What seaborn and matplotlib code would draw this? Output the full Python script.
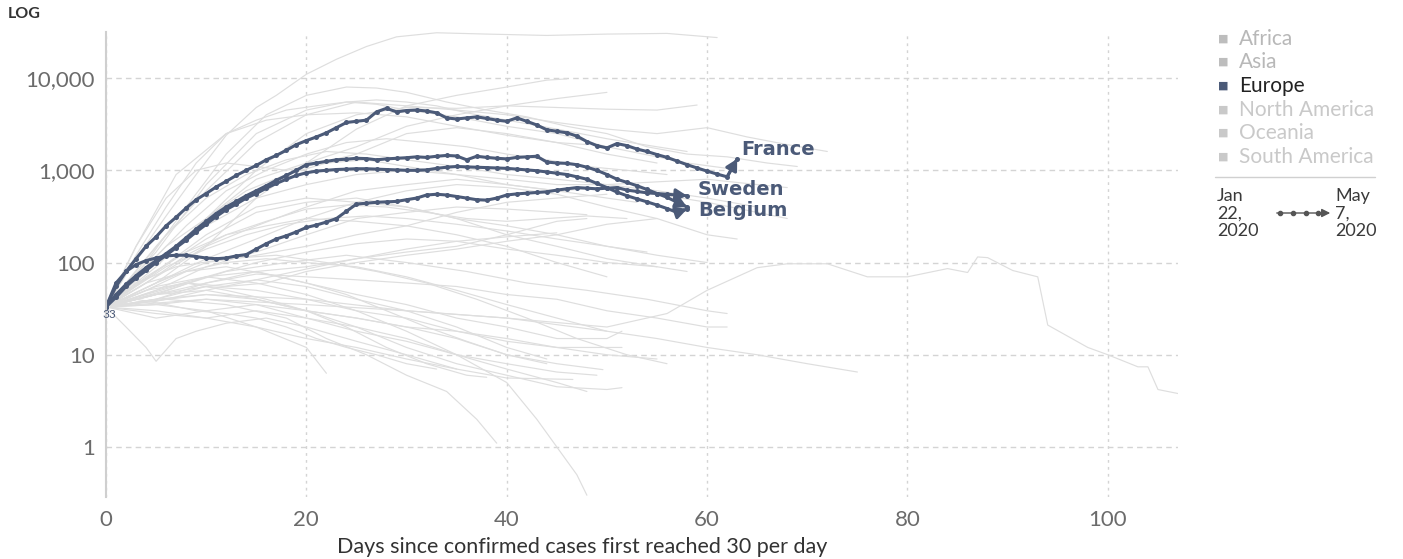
import matplotlib
matplotlib.use("Agg")
import matplotlib.pyplot as plt
import numpy as np
import pandas as pd
import seaborn as sns
from matplotlib.ticker import FuncFormatter, NullLocator
from matplotlib.lines import Line2D
from matplotlib.patches import FancyArrowPatch

# ---------------- DATA ----------------
# Highlighted European countries: daily values from day 0
france = [33, 55, 80, 110, 150, 190, 250, 310, 390, 480,
          560, 660, 760, 880, 1000, 1130, 1300, 1450, 1650, 1900,
          2100, 2300, 2550, 2900, 3300, 3400, 3500, 4300, 4700, 4300,
          4450, 4500, 4400, 4200, 3700, 3600, 3700, 3800, 3650, 3500,
          3400, 3700, 3400, 3100, 2750, 2650, 2550, 2350, 2050, 1850,
          1750, 1950, 1850, 1700, 1600, 1480, 1380, 1260, 1150, 1060,
          980, 910, 850, 1330]
belgium = [33, 45, 58, 72, 88, 105, 125, 150, 185, 230,
           280, 340, 400, 460, 530, 600, 680, 780, 880, 1000,
           1150, 1200, 1250, 1300, 1320, 1350, 1340, 1300, 1330, 1350,
           1370, 1400, 1380, 1420, 1450, 1430, 1300, 1420, 1380, 1350,
           1330, 1380, 1400, 1420, 1230, 1200, 1190, 1150, 1080, 1000,
           900, 800, 740, 680, 620, 560, 510, 450, 400]
europe_other = [33, 42, 55, 68, 82, 100, 120, 145, 175, 215,
                260, 315, 375, 430, 500, 560, 640, 720, 800, 880,
                940, 980, 1000, 1020, 1030, 1040, 1040, 1030, 1020, 1010,
                1000, 1000, 1010, 1050, 1080, 1100, 1090, 1080, 1070, 1060,
                1050, 1030, 1010, 990, 960, 930, 900, 850, 800, 720,
                650, 580, 530, 490, 455, 420, 385, 350, 380]
sweden = [33, 60, 80, 95, 105, 112, 118, 120, 120, 116,
          112, 110, 112, 118, 122, 140, 160, 180, 195, 215,
          240, 255, 275, 300, 360, 430, 440, 450, 455, 460,
          480, 500, 540, 550, 540, 520, 500, 480, 475, 500,
          540, 555, 565, 575, 585, 610, 630, 650, 640, 630,
          640, 650, 610, 590, 570, 560, 550, 540, 530]
highlight_names = ["France", "Belgium", "", "Sweden"]

# Other countries (grey), read as (day, value) points
gray_high = [
    [(0, 33), (3, 110), (6, 320), (9, 900), (12, 2400), (15, 4800), (17, 6500), (20, 11000), (23, 16000),
     (26, 22000), (29, 28000), (33, 31000), (38, 30000), (44, 29000), (50, 30000), (56, 30500), (61, 27500)],
    [(0, 33), (4, 100), (8, 400), (12, 1500), (16, 4000), (20, 6500), (24, 8000), (27, 7800), (30, 7000),
     (34, 5500), (38, 4500), (42, 3800), (46, 3000), (50, 2500), (54, 1800), (58, 1500), (62, 1400),
     (66, 1200), (69, 1100)],
    [(0, 33), (5, 150), (10, 600), (15, 2000), (20, 4000), (25, 5500), (30, 5000), (35, 4500), (40, 4000),
     (45, 3300), (50, 2800), (55, 2500), (60, 2900), (64, 2300), (68, 1900), (72, 1600)],
    [(0, 33), (5, 130), (10, 700), (15, 2500), (20, 4500), (24, 5500), (27, 5200), (30, 4500), (35, 3800),
     (40, 3000), (45, 2500), (50, 1800), (55, 1400), (58, 1200), (62, 1050)],
    [(0, 33), (5, 90), (10, 300), (15, 1000), (20, 2500), (25, 4000), (30, 4800), (35, 4700), (40, 5000),
     (45, 4800), (50, 4600), (55, 4500), (59, 5100)],
    [(0, 33), (3, 150), (7, 900), (12, 2500), (16, 3500), (20, 4000), (25, 4200), (30, 3800), (35, 3000),
     (40, 2400), (45, 2000), (48, 1900)],
    [(0, 33), (5, 60), (10, 150), (15, 500), (20, 1200), (25, 2800), (30, 5000), (35, 6500), (40, 8000),
     (44, 9500), (46, 9800)],
    [(0, 33), (5, 100), (10, 300), (15, 800), (20, 1200), (25, 1800), (30, 3000), (35, 4000), (40, 5000),
     (45, 6000), (50, 7000)],
    [(0, 33), (3, 150), (6, 500), (9, 1000), (12, 1200), (15, 1100), (18, 1000), (20, 1100), (25, 1500),
     (30, 2500), (35, 2900), (40, 2500), (45, 2000), (50, 1500), (55, 1200)],
    [(0, 33), (3, 120), (6, 400), (9, 1200), (12, 2500), (15, 3500), (18, 4500), (21, 5000), (24, 5500),
     (27, 5800), (30, 5500), (33, 5000), (36, 4200), (40, 3500), (45, 2800), (50, 2200), (55, 1800), (58, 1600)],
    [(0, 33), (4, 90), (8, 250), (12, 600), (16, 1000), (20, 1500), (24, 2000), (28, 2200), (32, 2000),
     (36, 1800), (40, 1500), (44, 1300), (48, 1100), (52, 1000), (56, 900)],
    [(0, 33), (3, 80), (6, 200), (10, 500), (14, 900), (18, 1300), (22, 1600), (26, 1500), (30, 1300),
     (35, 1100), (40, 900), (45, 800), (50, 700), (55, 600), (60, 500), (65, 400)],
]
gray_mid = [
    [(0, 33), (5, 70), (10, 150), (15, 250), (20, 400), (25, 600), (30, 700), (35, 800), (40, 700), (45, 600),
     (50, 500), (53, 450)],
    [(0, 33), (5, 80), (10, 200), (15, 400), (20, 500), (25, 450), (30, 400), (35, 300), (40, 250), (45, 200),
     (50, 150), (55, 120), (60, 100)],
    [(0, 33), (4, 60), (8, 120), (12, 200), (16, 250), (20, 300), (25, 280), (30, 250), (35, 200), (40, 150),
     (45, 100), (50, 70)],
    [(0, 33), (5, 50), (10, 90), (15, 130), (20, 200), (25, 300), (30, 350), (35, 400), (40, 380), (45, 350),
     (48, 330)],
    [(0, 33), (3, 70), (6, 150), (10, 300), (14, 600), (18, 900), (22, 1200), (26, 1300), (30, 1100), (35, 900),
     (40, 700), (45, 600), (50, 650), (55, 550), (60, 450), (65, 350), (68, 300)],
    [(0, 33), (5, 60), (10, 100), (15, 120), (20, 150), (25, 200), (30, 250), (35, 350), (40, 450), (45, 500),
     (50, 550)],
    [(0, 33), (5, 45), (10, 70), (15, 100), (20, 130), (25, 160), (30, 180), (35, 170), (40, 140), (45, 120),
     (50, 100), (55, 90)],
    [(0, 33), (4, 50), (8, 80), (12, 100), (16, 110), (20, 100), (25, 90), (30, 70), (35, 50), (40, 35),
     (45, 25), (50, 18)],
    [(0, 33), (5, 40), (10, 60), (15, 80), (20, 90), (25, 110), (30, 130), (35, 150), (40, 200), (45, 280),
     (48, 300)],
    [(0, 33), (3, 60), (7, 90), (12, 110), (17, 120), (22, 100), (27, 80), (32, 60), (37, 40), (42, 25),
     (47, 15), (52, 10), (56, 8)],
    [(0, 33), (5, 100), (10, 250), (15, 500), (20, 700), (25, 900), (30, 1000), (35, 900), (40, 800),
     (45, 700), (50, 700), (55, 750), (60, 800), (65, 700), (68, 650)],
    [(0, 33), (5, 60), (10, 110), (15, 180), (20, 300), (25, 450), (30, 600), (35, 700), (40, 650), (45, 550),
     (50, 400), (55, 300), (60, 200), (63, 180)],
    [(0, 33), (4, 45), (8, 60), (12, 55), (16, 60), (20, 80), (25, 100), (30, 120), (35, 140), (40, 170),
     (45, 200), (50, 260), (55, 300)],
    [(0, 33), (5, 80), (10, 180), (15, 350), (20, 450), (25, 500), (30, 400), (35, 300), (40, 200), (45, 150),
     (50, 110), (55, 90), (58, 80)],
    [(0, 33), (6, 50), (12, 80), (18, 100), (24, 120), (30, 100), (36, 80), (42, 60), (48, 50), (54, 40),
     (60, 30), (62, 28)],
    [(0, 33), (3, 55), (6, 90), (10, 140), (14, 200), (18, 260), (22, 300), (26, 320), (30, 300), (35, 260),
     (40, 220), (45, 180), (50, 150), (54, 130)],
    [(0, 33), (5, 45), (10, 60), (15, 75), (20, 70), (25, 65), (30, 60), (35, 55), (40, 45), (45, 40),
     (50, 30), (55, 25), (60, 20), (62, 20)],
    [(0, 33), (4, 70), (8, 130), (12, 200), (16, 280), (20, 380), (24, 420), (28, 400), (32, 350), (36, 300),
     (40, 280), (44, 300), (48, 320), (52, 300)],
    [(0, 33), (5, 38), (10, 50), (15, 65), (20, 85), (25, 110), (30, 140), (35, 170), (40, 190), (45, 210)],
]
gray_low = [
    [(0, 33), (2, 20), (4, 12), (5, 8.5), (7, 15), (9, 18), (12, 22), (16, 25), (20, 20), (25, 14), (30, 10),
     (35, 7)],
    [(0, 33), (5, 40), (10, 45), (15, 40), (20, 30), (25, 20), (30, 15), (35, 10), (40, 7), (45, 5), (48, 4)],
    [(0, 33), (4, 50), (8, 60), (12, 50), (16, 40), (20, 30), (24, 20), (28, 12), (32, 8), (36, 6), (38, 5.7)],
    [(0, 33), (5, 35), (10, 40), (15, 35), (20, 25), (25, 18), (30, 14), (35, 10), (40, 8), (45, 6.5), (49, 6)],
    [(0, 33), (5, 50), (10, 70), (15, 60), (20, 45), (25, 30), (30, 18), (35, 10), (40, 5), (43, 2), (45, 1),
     (47, 0.5), (48, 0.3)],
    [(0, 33), (6, 40), (12, 35), (18, 25), (22, 15), (26, 10), (30, 6), (34, 4), (37, 2), (39, 1.1)],
    [(0, 33), (5, 30), (10, 25), (15, 20), (20, 12), (22, 6.3)],
    [(0, 33), (5, 45), (10, 50), (15, 40), (20, 30), (25, 25), (30, 20), (35, 15), (40, 10), (45, 8),
     (49.6, 6.9)],
    [(0, 33), (5, 55), (10, 70), (15, 80), (20, 60), (25, 45), (30, 35), (35, 25), (40, 20), (45, 15),
     (50, 15), (51.5, 18)],
    [(0, 33), (5, 40), (10, 55), (15, 50), (20, 40), (25, 30), (30, 25), (35, 18), (40, 14), (45, 12),
     (51.5, 12)],
    [(0, 33), (5, 35), (10, 30), (15, 20), (20, 15), (25, 12), (30, 9), (35, 7), (40, 5.6), (46.6, 5.4)],
    [(0, 33), (5, 28), (10, 25), (15, 30), (20, 25), (25, 20), (30, 12), (35, 8), (40, 6), (45, 4.5),
     (50, 4.2), (51.5, 4.4)],
    [(0, 33), (10, 45), (20, 40), (30, 30), (40, 25), (50, 18), (55, 15), (60, 12), (65, 10), (70, 8),
     (75, 6.5)],
    [(0, 33), (10, 40), (20, 35), (30, 30), (40, 25), (50, 20), (56, 28), (60, 50), (65, 88), (68, 97),
     (72, 97), (76, 70), (80, 70), (84, 86), (86, 78), (87, 115), (88, 113), (90.5, 82), (93, 70), (94, 21),
     (98, 12), (100, 10), (103, 7.4), (104, 7.4), (105, 4.2), (107, 3.8)],
    [(0, 33), (3, 40), (6, 35), (9, 30), (12, 28), (15, 25), (18, 20), (21, 15), (24, 12), (27, 10), (30, 8),
     (33, 7)],
    [(0, 33), (5, 45), (10, 55), (15, 65), (20, 55), (25, 40), (30, 30), (35, 20), (40, 12), (44, 9)],
    [(0, 33), (4, 60), (8, 80), (12, 90), (16, 75), (20, 60), (24, 45), (28, 30), (32, 20), (36, 14), (40, 10),
     (44, 8)],
    [(0, 33), (5, 25), (10, 30), (15, 35), (20, 30), (25, 25), (30, 20), (35, 18), (40, 15), (45, 12),
     (50, 10), (55, 9)],
]

legend_regions = ["Africa", "Asia", "Europe", "North America", "Oceania", "South America"]
x_ticks = [0, 20, 40, 60, 80, 100]
y_ticks = [1, 10, 100, 1000, 10000]

# ---------------- STYLE ----------------
HL = "#4b5a78"
GRAY = "#dedede"
W, H = 1403, 559

sns.set_theme(style="white")
plt.rcParams["font.family"] = ["Lato", "DejaVu Sans"]

fig = plt.figure(figsize=(W / 100, H / 100), dpi=100)
ax = fig.add_axes([106 / W, 1 - 497 / H, (1178 - 106) / W, (497 - 32) / H])

# grey background lines
rows = []
for gi, line in enumerate(gray_high + gray_mid + gray_low):
    for d, v in line:
        rows.append({"line": gi, "day": d, "cases": v})
gray_df = pd.DataFrame(rows)
sns.lineplot(data=gray_df, x="day", y="cases", units="line", estimator=None,
             color=GRAY, linewidth=0.85, ax=ax, legend=False)

# highlighted lines
hl_series = [france, belgium, europe_other, sweden]
hrows = []
for name_i, vals in enumerate(hl_series):
    for d, v in enumerate(vals):
        hrows.append({"country": name_i, "day": d, "cases": v})
hl_df = pd.DataFrame(hrows)
sns.lineplot(data=hl_df, x="day", y="cases", units="country", estimator=None,
             color=HL, linewidth=2.2, marker="o", markersize=3.6, markeredgewidth=0,
             ax=ax, legend=False)

ax.set_yscale("log")
ax.set_xlim(0, 107)
ax.set_ylim(0.287, 31600)

# arrowheads + labels
label_offsets = {"France": (4, 9), "Sweden": (11, 6), "Belgium": (11, -3)}
for name, vals in zip(highlight_names, hl_series):
    n = len(vals) - 1
    ax.annotate("", xy=(n, vals[n]), xytext=(n - 1, vals[n - 1]),
                arrowprops=dict(arrowstyle="-|>,head_length=0.55,head_width=0.3",
                                color=HL, lw=2.2, shrinkA=0, shrinkB=0))
    if name:
        ax.annotate(name, xy=(n, vals[n]), xytext=label_offsets[name],
                    textcoords="offset pixels", ha="left", va="center",
                    fontsize=14, fontweight="bold", color=HL,
                    family=["DejaVu Sans"])

ax.annotate(str(france[0]), xy=(0, france[0]), xytext=(-4, -8), textcoords="offset pixels",
            ha="left", va="center", fontsize=8.5, color=HL)

# axes styling
ax.set_xticks(x_ticks)
ax.set_yticks(y_ticks)
ax.yaxis.set_minor_locator(NullLocator())
ax.yaxis.set_major_formatter(FuncFormatter(lambda v, p: f"{v:,.0f}"))
ax.tick_params(axis="both", length=0, labelsize=16, labelcolor="#6b6b6b")
ax.tick_params(axis="x", pad=9)
ax.tick_params(axis="y", pad=8)
ax.set_xlabel("")
ax.set_ylabel("")
ax.xaxis.grid(True, color="#d4d4d4", linestyle=(0, (2, 3)), linewidth=1)
ax.yaxis.grid(True, color="#d4d4d4", linestyle=(0, (4, 3)), linewidth=1)
ax.set_axisbelow(True)
for s in ["top", "right", "bottom"]:
    ax.spines[s].set_visible(False)
ax.spines["left"].set_color("#cfcfcf")
ax.spines["left"].set_linewidth(1.5)


def fx(x):
    return x / W


def fy(y):
    return 1 - y / H


fig.text(fx(8), fy(14), "LOG", fontsize=11.5, fontweight="bold", color="#333333", va="center")
fig.text(fx(582), fy(547), "Days since confirmed cases first reached 30 per day",
         ha="center", va="center", fontsize=15.5, color="#333333")

# legend
leg_y = [39, 62, 86, 110, 133, 157]
leg_text_col = ["#b8b8b8", "#b8b8b8", "#222222", "#c9c9c9", "#c9c9c9", "#c9c9c9"]
leg_sq_col = ["#bdbdbd", "#bdbdbd", HL, "#c9c9c9", "#c9c9c9", "#c9c9c9"]
for name, yy, tc, sc in zip(legend_regions, leg_y, leg_text_col, leg_sq_col):
    fig.text(fx(1223), fy(yy), "\u25a0", ha="center", va="center", fontsize=8, color=sc,
             family=["DejaVu Sans"])
    fig.text(fx(1239), fy(yy), name, ha="left", va="center", fontsize=15, color=tc)

fig.add_artist(Line2D([fx(1215), fx(1375)], [fy(177), fy(177)], transform=fig.transFigure,
                      color="#d0d0d0", lw=1))
fig.text(fx(1217), fy(188), "Jan\n22,\n2020", ha="left", va="top", fontsize=13,
         color="#3a3a3a", linespacing=1.12)
fig.text(fx(1335), fy(188), "May\n7,\n2020", ha="left", va="top", fontsize=13,
         color="#3a3a3a", linespacing=1.12)
fig.add_artist(FancyArrowPatch((fx(1274), fy(213)), (fx(1333), fy(213)), transform=fig.transFigure,
                               arrowstyle="-|>,head_length=5,head_width=2.5", color="#555555", lw=1))
fig.add_artist(Line2D([fx(1280), fx(1293), fx(1306), fx(1318)], [fy(213)] * 4,
                      transform=fig.transFigure, color="#555555", lw=0, marker="o", markersize=3))

fig.savefig("out.png", dpi=100)
